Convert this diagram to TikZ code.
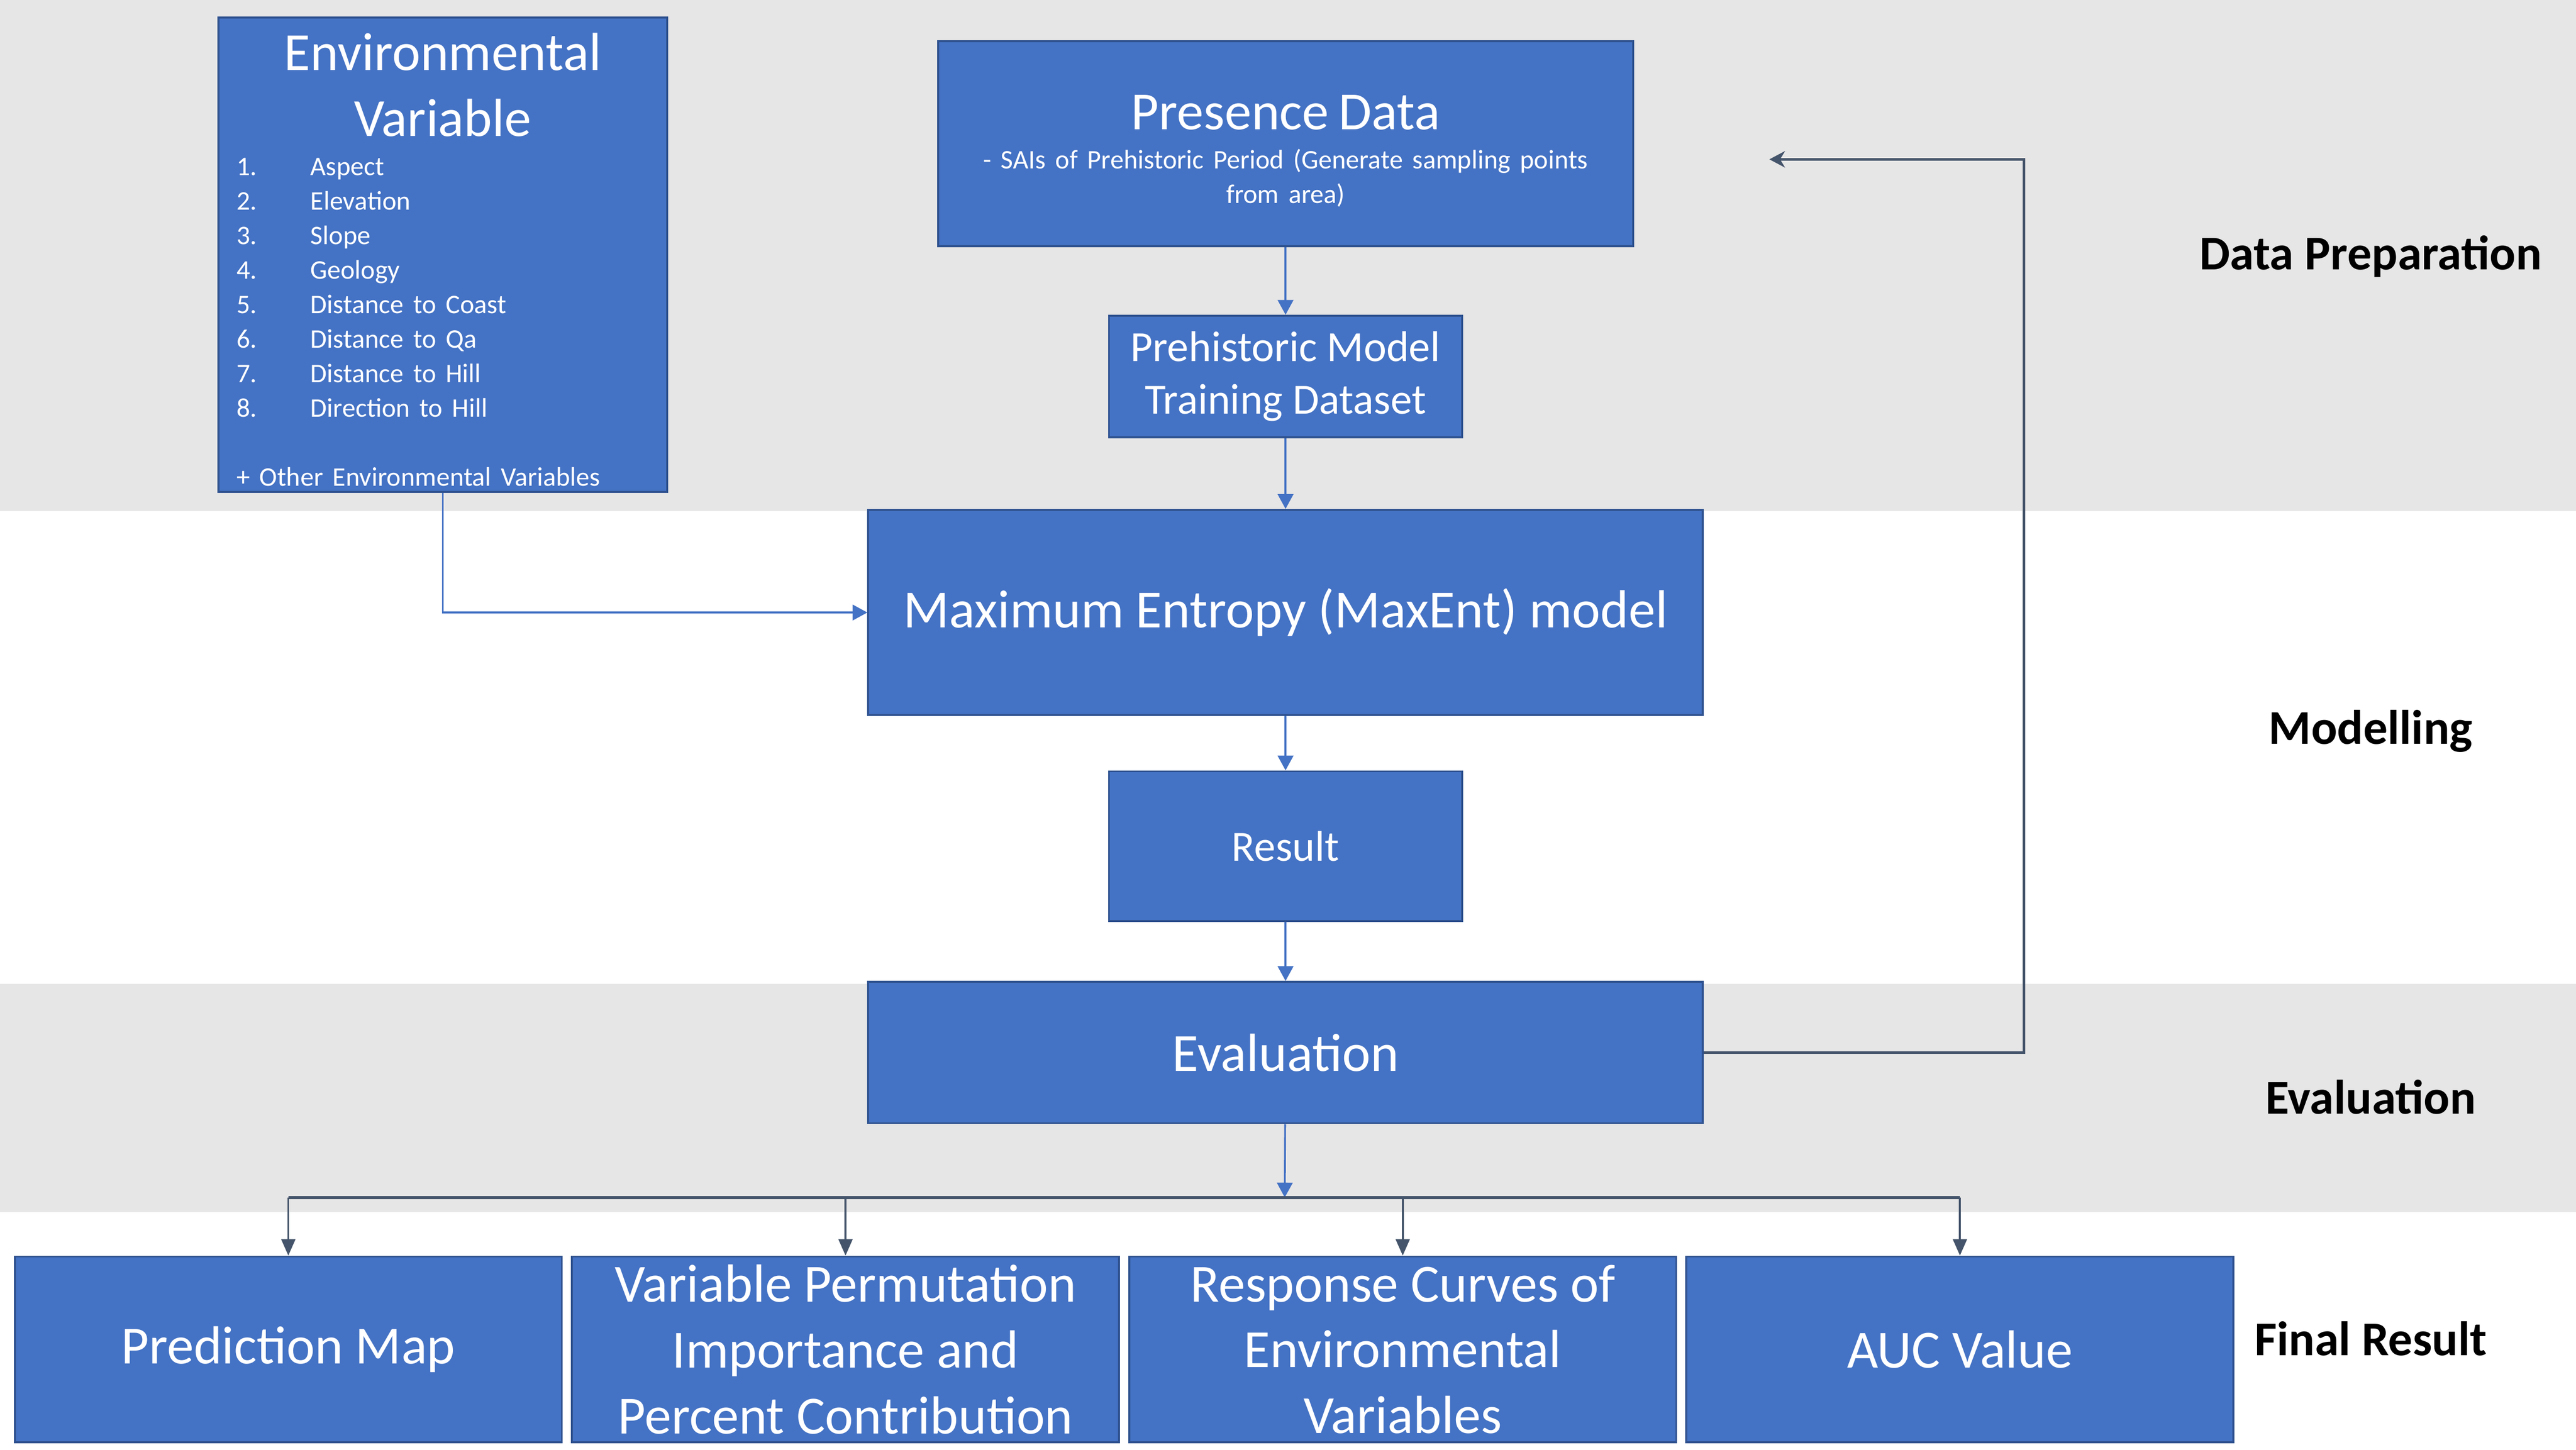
\documentclass[tikz,border=0pt]{standalone}
\usepackage{fontspec}
\setmainfont{Carlito}
\usetikzlibrary{arrows.meta,positioning,backgrounds}
\definecolor{boxblue}{HTML}{4472C4}
\definecolor{boxedge}{HTML}{2F528F}
\definecolor{slate}{HTML}{44546A}
\definecolor{bandgray}{HTML}{E7E6E6}
\newcommand{\titlesize}{\fontsize{18.6}{22.8}\selectfont}
\newcommand{\listsize}{\fontsize{9.3}{11.95}\selectfont}
\newcommand{\envitem}[2]{\makebox[0.9cm][l]{#1}#2}

\begin{document}
\begin{tikzpicture}[
    x=0.02cm, y=-0.02cm,
    node distance=0.84cm and 0.1cm,
    stagebox/.style={rectangle, draw=boxedge, fill=boxblue, line width=0.7pt, text=white, align=center, inner sep=2pt},
    bigtext/.style={font=\titlesize},
    midtext/.style={font=\fontsize{14.9}{18.2}\selectfont},
    resultbox/.style={stagebox, bigtext, minimum width=6.66cm, minimum height=2.26cm},
    phaselabel/.style={font=\fontsize{16.8}{20}\selectfont\bfseries, text=black},
    flow/.style={-{Triangle[length=1.8mm, width=1.9mm]}, draw=boxblue, line width=0.65pt},
    tree/.style={-{Triangle[length=2mm, width=1.7mm]}, draw=slate, line width=0.65pt},
    loopback/.style={-{Stealth[length=1.9mm, width=2mm, inset=0.6mm]}, draw=slate, line width=0.8pt}
]
\useasboundingbox (0,0) rectangle (1568,882.7);

% === INPUTS (Data Preparation) ===
\node[stagebox, minimum width=5.46cm, minimum height=5.76cm, text width=5.02cm, align=left, inner xsep=0.22cm] (env) at (269.5,155) {%
    {\centering\titlesize\raisebox{3.4pt}{\vphantom{Environmental}}Environmental\\Variable\par}\vspace{1.75pt}%
    {\listsize
    \envitem{1.}{Aspect}\\
    \envitem{2.}{Elevation}\\
    \envitem{3.}{Slope}\\
    \envitem{4.}{Geology}\\
    \envitem{5.}{Distance to Coast}\\
    \envitem{6.}{Distance to Qa}\\
    \envitem{7.}{Distance to Hill}\\
    \envitem{8.}{Direction to Hill}\\[0.42cm]
    + Other Environmental Variables\par}};
\node[stagebox, minimum width=8.46cm, minimum height=2.5cm, text width=8.2cm] (pres) at (782.5,87.5) {%
    {\titlesize\raisebox{5pt}{\vphantom{Presence Data}}Presence Data\par}\vspace{1.75pt}%
    {\listsize - SAIs of Prehistoric Period (Generate sampling points\\from area)\par}};
\node[stagebox, midtext, minimum width=4.3cm, minimum height=1.48cm, below=0.82cm of pres] (train) {Prehistoric Model\\Training Dataset};

% === MODEL AND EVALUATION (centre column) ===
\node[stagebox, bigtext, minimum width=10.16cm, minimum height=2.5cm, below=0.86cm of train] (maxent) {Maximum Entropy (MaxEnt) model};
\node[stagebox, midtext, minimum width=4.3cm, minimum height=1.82cm, below=0.66cm of maxent] (result) {Result};
\node[stagebox, bigtext, minimum width=10.16cm, minimum height=1.72cm, below=0.72cm of result] (eval) {Evaluation};

% === FINAL RESULT (bottom row) ===
\node[resultbox] (pmap) at (175.5,821.5) {Prediction Map};
\node[resultbox, right=0.1cm of pmap] (varimp) {Variable Permutation\\Importance and\\Percent Contribution};
\node[resultbox, right=0.1cm of varimp] (resp) {Response Curves of\\Environmental\\Variables};
\node[resultbox, right=0.1cm of resp] (auc) {AUC Value};

% === Phase labels (right margin) ===
\node[phaselabel] (lab-prep) at (1443,156) {Data Preparation};
\node[phaselabel] (lab-model) at (1443,445) {Modelling};
\node[phaselabel] (lab-eval) at (1443,668) {Evaluation};
\node[phaselabel] (lab-final) at (1443,815) {Final Result};

% === Connectors ===
\coordinate (split) at (782,729);
\coordinate (backturn) at (1232,97);
\coordinate (backin) at (1077,97);
\draw[flow] (pres) -- (train);
\draw[flow] (train) -- (maxent);
\draw[flow] (maxent) -- (result);
\draw[flow] (result) -- (eval);
\draw[flow] (env.south) |- (maxent.west);
\draw[flow] (eval) -- (split);
\draw[slate, line width=1.1pt] (pmap.north |- split) -- (auc.north |- split);
\foreach \n in {pmap,varimp,resp,auc}
    \draw[tree] (\n.north |- split) -- (\n.north);
% Evaluation feeds back to the presence data
\draw[loopback] (eval.east) -| (backturn) -- (backin);

% === Background bands ===
\begin{scope}[on background layer]
    \fill[bandgray] (0,0) rectangle (1568,311);
    \fill[bandgray] (0,599) rectangle (1568,738);
\end{scope}

\end{tikzpicture}
\end{document}
